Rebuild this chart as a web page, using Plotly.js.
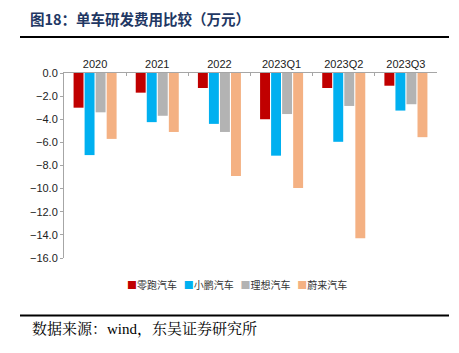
<!DOCTYPE html>
<html>
<head>
<meta charset="utf-8">
<script src="https://cdn.plot.ly/plotly-3.0.1.min.js"></script>
<style>html,body{margin:0;padding:0;background:#fff;}#chart{width:459px;height:353px;}</style>
</head>
<body>
<div id="chart"></div>
<script>
const categories = ['2020', '2021', '2022', '2023Q1', '2023Q2', '2023Q3'];
const seriesNames = ['零跑汽车', '小鹏汽车', '理想汽车', '蔚来汽车'];
const leapmotor = [-3.0, -1.7, -1.3, -4.0, -1.3, -1.1];
const xpeng = [-7.1, -4.25, -4.4, -7.15, -5.95, -3.25];
const liauto = [-3.4, -3.7, -5.1, -3.55, -2.85, -2.7];
const nio = [-5.7, -5.1, -8.9, -9.95, -14.3, -5.55];
const yTicks = [0, -2, -4, -6, -8, -10, -12, -14, -16];
const colors = ['#C00000', '#00B0F0', '#B3B3B3', '#F4B183'];

const allSeries = [leapmotor, xpeng, liauto, nio];
const traces = allSeries.map((vals, i) => ({
  type: 'bar',
  name: seriesNames[i],
  x: categories,
  y: vals,
  marker: {color: colors[i]},
  hoverinfo: 'x+y'
}));

const L = 64, R = 437, T = 73, B = 257.7;
const W = R - L, H = B - T;
const px = v => (v - L) / W;
const py = v => (B - v) / H;

const legendText = seriesNames.map((n, i) =>
  '<span style="color:' + colors[i] + '">■</span>' + n).join('&nbsp;&nbsp;&nbsp;');

const layout = {
  width: 459, height: 353,
  margin: {l: L, r: 459 - R, t: T, b: 353 - B},
  paper_bgcolor: '#fff', plot_bgcolor: '#fff',
  barmode: 'group', bargap: 0.29, bargroupgap: 0.1,
  font: {family: 'Liberation Sans, Arial, sans-serif', size: 11, color: '#222'},
  title: {
    text: '<b>图18：单车研发费用比较（万元）</b>',
    font: {family: 'Noto Sans CJK SC, serif', size: 14.5, color: '#1F3864'},
    xref: 'container', yref: 'container',
    x: 30 / 459, xanchor: 'left', y: 1 - 20 / 353, yanchor: 'middle'
  },
  xaxis: {
    type: 'category', side: 'top',
    showline: true, linecolor: '#A6A6A6', linewidth: 1,
    ticks: 'inside', tickson: 'boundaries', ticklen: 3, tickcolor: '#A6A6A6',
    tickfont: {size: 11, color: '#222'}, showgrid: false, zeroline: false,
    fixedrange: true
  },
  yaxis: {
    range: [-16, 0], tickvals: yTicks, tickformat: '.1f',
    showline: true, linecolor: '#A6A6A6', linewidth: 1,
    ticks: 'outside', ticklen: 3, tickcolor: '#A6A6A6',
    showgrid: false, zeroline: false,
    tickfont: {size: 11, color: '#222'}, fixedrange: true
  },
  showlegend: false,
  shapes: [
    {type: 'line', xref: 'paper', yref: 'paper', x0: px(20), x1: px(449), y0: py(37), y1: py(37), line: {color: '#000', width: 2}},
    {type: 'line', xref: 'paper', yref: 'paper', x0: px(20), x1: px(449), y0: py(315), y1: py(315), line: {color: '#000', width: 2}}
  ],
  annotations: [
    {text: legendText, xref: 'paper', yref: 'paper', x: px(236.5), y: py(284), xanchor: 'center', yanchor: 'middle', showarrow: false,
     font: {family: 'Noto Sans CJK SC, sans-serif', size: 10, color: '#333'}},
    {text: '数据来源：wind，东吴证券研究所', xref: 'paper', yref: 'paper', x: px(30), y: py(329), xanchor: 'left', yanchor: 'middle', showarrow: false,
     font: {family: 'Liberation Serif, Noto Serif CJK SC, serif', size: 15, color: '#000'}}
  ]
};

Plotly.newPlot('chart', traces, layout, {displayModeBar: false, staticPlot: true});
</script>
</body>
</html>
